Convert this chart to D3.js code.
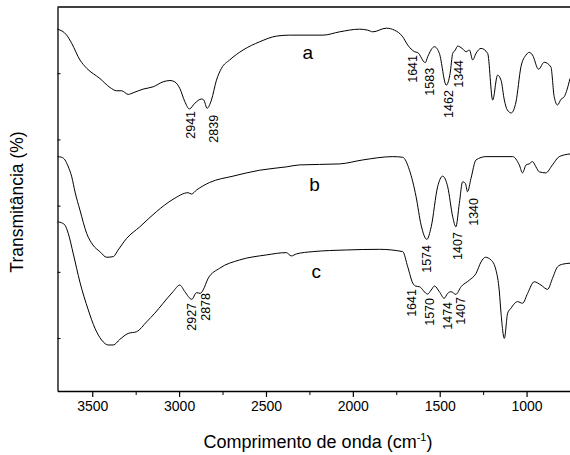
<!DOCTYPE html>
<html>
<head>
<meta charset="utf-8">
<script src="https://cdn.jsdelivr.net/npm/d3@7"></script>
<style>
	body { margin: 0; background: #fff; }
	svg { display: block; font-family: "Liberation Sans", Arial, sans-serif; }
	.axis path, .axis line { stroke: #000; }
	.axis text { font-size: 14px; fill: #000; }
	.curve { fill: none; stroke: #000; stroke-width: 1; }
</style>
</head>
<body>
<svg id="chart" width="570" height="455"></svg>
<script>
// wavenumber (cm-1), transmittance (arbitrary, offset per curve)
var curveA = [
	[3700, 93.3], [3647, 91.5], [3618, 89.0], [3571, 84.0], [3532, 81.5], [3456, 78.4],
	[3398, 75.7], [3360, 74.7], [3331, 74.7], [3293, 73.6], [3264, 74.1], [3207, 75.2],
	[3149, 75.9], [3092, 77.4], [3053, 77.8], [3025, 77.4], [2996, 75.4], [2967, 71.4],
	[2941, 69.2], [2910, 70.9], [2871, 72.2], [2858, 71.9], [2839, 69.4], [2814, 71.9],
	[2785, 77.9], [2756, 81.5], [2709, 84.0], [2632, 87.0], [2536, 89.5], [2440, 91.2],
	[2364, 91.5], [2172, 91.5], [2076, 92.5], [1962, 93.3], [1914, 93.0], [1885, 92.5],
	[1808, 93.6], [1760, 93.0], [1713, 91.0], [1684, 88.5], [1645, 86.5], [1626, 86.2],
	[1583, 83.2], [1569, 85.0], [1530, 88.0], [1502, 86.0], [1462, 76.4], [1440, 80.0],
	[1425, 86.0], [1410, 87.0], [1397, 88.2], [1371, 87.5], [1348, 86.5], [1329, 87.0],
	[1310, 84.0], [1291, 86.0], [1262, 87.5], [1224, 86.0], [1195, 71.9], [1167, 79.4],
	[1147, 77.9], [1128, 71.9], [1111, 68.9], [1088, 68.0], [1061, 71.3], [1032, 82.0],
	[1003, 85.5], [985, 86.3], [966, 85.5], [931, 81.2], [898, 83.3], [860, 81.9],
	[841, 72.9], [822, 70.4], [802, 72.1], [783, 72.9], [750, 78.4]
];

var curveB = [
	[3700, 54.8], [3676, 54.6], [3657, 53.8], [3640, 52.0], [3618, 48.7], [3599, 44.1],
	[3571, 38.7], [3532, 31.6], [3496, 28.1], [3456, 26.1], [3417, 24.4], [3379, 24.6],
	[3351, 26.6], [3302, 30.1], [3226, 33.6], [3130, 38.2], [3035, 41.9], [2948, 43.9],
	[2929, 43.5], [2900, 44.7], [2824, 47.0], [2690, 48.9], [2536, 50.7], [2383, 51.7],
	[2306, 52.3], [2076, 52.6], [1943, 53.8], [1770, 54.8], [1713, 54.6], [1674, 50.7],
	[1636, 42.7], [1607, 34.1], [1574, 29.8], [1549, 33.6], [1512, 45.7], [1483, 48.9],
	[1454, 45.7], [1425, 36.6], [1407, 33.6], [1387, 40.7], [1368, 47.2], [1352, 46.7],
	[1340, 44.2], [1320, 48.2], [1291, 53.8], [1233, 54.8], [1080, 54.8], [1042, 52.3],
	[1023, 49.9], [1003, 52.3], [985, 52.6], [966, 53.3], [946, 51.7], [927, 50.2],
	[889, 49.9], [851, 52.3], [812, 54.8], [750, 55.6]
];

var curveC = [
	[3700, 35.1], [3676, 34.8], [3657, 34.1], [3638, 31.6], [3609, 25.4], [3571, 16.9],
	[3523, 8.5], [3484, 2.9], [3446, -0.6], [3408, -2.1], [3379, -2.1], [3341, -0.4],
	[3293, 1.4], [3245, 1.9], [3187, 4.9], [3140, 7.5], [3092, 10.5], [3035, 14.0],
	[2996, 16.0], [2967, 14.0], [2927, 11.7], [2900, 13.7], [2878, 13.5], [2862, 14.5],
	[2833, 18.0], [2766, 21.1], [2651, 23.6], [2498, 25.1], [2383, 25.8], [2354, 24.8],
	[2325, 25.4], [2230, 26.1], [2038, 26.6], [1847, 26.8], [1713, 26.1], [1684, 21.5],
	[1655, 16.6], [1640, 15.7], [1617, 15.5], [1570, 13.3], [1549, 14.5], [1530, 15.7],
	[1502, 14.0], [1474, 12.0], [1454, 13.5], [1435, 14.0], [1407, 13.2], [1377, 15.5],
	[1329, 17.5], [1291, 19.5], [1262, 23.0], [1237, 24.4], [1205, 23.6], [1176, 20.5],
	[1157, 14.2], [1147, 7.5], [1128, -0.1], [1109, 7.5], [1090, 9.0], [1052, 11.0],
	[1023, 10.5], [994, 13.5], [956, 17.0], [917, 16.0], [879, 14.7], [851, 18.0],
	[822, 21.5], [793, 22.3], [750, 22.6]
];

// peak labels: text, wavenumber and value of the top end of the rotated label
var peakLabels = [
	["2941", 2933, 68.6], ["2839", 2801, 67.4], ["1641", 1657, 85.5],
	["1583", 1559, 81.6], ["1462", 1447, 74.9], ["1344", 1390, 84.0],
	["1574", 1576, 28.1], ["1407", 1398, 32.0], ["1340", 1306, 42.3],
	["2927", 2930, 10.6], ["2878", 2849, 13.6], ["1641", 1660, 14.8],
	["1570", 1559, 12.1], ["1474", 1456, 10.9], ["1407", 1381, 12.4]
];

var curveNames = [["a", 2259, 84.3], ["b", 2220, 44.5], ["c", 2210, 18.1]];

var xMajor = [3500, 3000, 2500, 2000, 1500, 1000];
var xMinor = [3250, 2750, 2250, 1750, 1250];
var yTicks = [0, 20, 40, 60, 80];

var margin = {top: 7, right: 0, bottom: 64, left: 57.5};
var svg = d3.select("#chart");
var width = +svg.attr("width") - margin.left - margin.right;
var height = +svg.attr("height") - margin.top - margin.bottom;

var g = svg.append("g")
	.attr("transform", "translate(" + margin.left + "," + margin.top + ")");

var xScale = d3.scaleLinear()
	.domain([3700, 750])
	.range([0, width]);

var yScale = d3.scaleLinear()
	.domain([-16, 100])
	.range([height, 0]);

// minor ticks first, then the labelled axis
g.append("g")
	.attr("class", "axis")
	.attr("transform", "translate(0," + height + ")")
	.call(d3.axisBottom(xScale).tickValues(xMinor).tickSize(4).tickFormat(""))
	.select(".domain").remove();

var xAxis = g.append("g")
	.attr("class", "axis x-axis")
	.attr("transform", "translate(0," + height + ")")
	.call(d3.axisBottom(xScale).tickValues(xMajor).tickSize(6).tickSizeOuter(0).tickPadding(4).tickFormat(d3.format("d")));
xAxis.select(".domain").attr("stroke-width", 1.3);
xAxis.selectAll(".tick line").attr("stroke-width", 1.2);

var yAxis = g.append("g")
	.attr("class", "axis y-axis")
	.call(d3.axisLeft(yScale).tickValues(yTicks).tickSize(-3).tickSizeOuter(0).tickFormat(""));
yAxis.select(".domain").attr("stroke-width", 1.3);

// top border
g.append("line")
	.attr("x1", 0).attr("x2", width)
	.attr("y1", 0).attr("y2", 0)
	.attr("stroke", "#000").attr("stroke-width", 1.3);

var line = d3.line()
	.x(function(d){ return xScale(d[0]); })
	.y(function(d){ return yScale(d[1]); })
	.curve(d3.curveMonotoneX);

[curveA, curveB, curveC].forEach(function(c){
	g.append("path")
		.datum(c)
		.attr("class", "curve")
		.attr("d", line);
});

g.selectAll(".peak")
	.data(peakLabels)
	.enter().append("text")
	.attr("class", "peak")
	.attr("transform", function(d){
		return "translate(" + xScale(d[1]) + "," + yScale(d[2]) + ") rotate(-90)";
	})
	.attr("text-anchor", "end")
	.attr("dy", "0.36em")
	.attr("font-size", "12.5px")
	.text(function(d){ return d[0]; });

g.selectAll(".name")
	.data(curveNames)
	.enter().append("text")
	.attr("class", "name")
	.attr("x", function(d){ return xScale(d[1]); })
	.attr("y", function(d){ return yScale(d[2]); })
	.attr("text-anchor", "middle")
	.attr("font-size", "19px")
	.text(function(d){ return d[0]; });

var xTitle = svg.append("text")
	.attr("x", 318)
	.attr("y", 448)
	.attr("text-anchor", "middle")
	.attr("font-size", "18px");
xTitle.append("tspan").text("Comprimento de onda (cm");
xTitle.append("tspan").attr("font-size", "11px").attr("dy", "-7").text("-1");
xTitle.append("tspan").attr("dy", "7").text(")");

svg.append("text")
	.attr("transform", "translate(23,202) rotate(-90)")
	.attr("text-anchor", "middle")
	.attr("font-size", "17.5px")
	.text("Transmitância (%)");
</script>
</body>
</html>
